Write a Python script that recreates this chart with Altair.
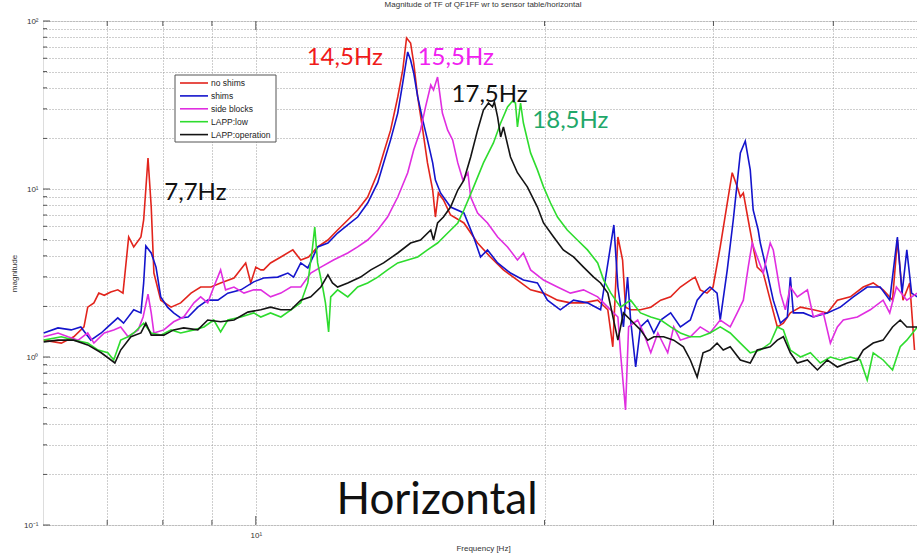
import altair as alt
import pandas as pd

# ---------------- data (frequency [Hz], magnitude) ----------------
NO_SHIMS = [(6.01,1.26),(6.27,1.21),(6.46,1.32),(6.62,1.51),(6.68,1.98),(6.78,2.10),(6.86,2.40),(6.95,2.33),
    (7.06,2.44),(7.18,2.51),(7.27,2.40),(7.37,5.18),(7.46,4.52),(7.59,5.18),(7.64,6.54),(7.72,15.3),(7.78,7.81),
    (7.83,3.16),(7.96,2.18),(8.16,1.98),(8.35,2.10),(8.56,2.40),(8.76,2.61),(8.98,2.61),(9.19,2.76),(9.49,2.95),
    (9.76,3.63),(9.88,2.76),(10.0,3.43),(10.12,3.30),(10.19,3.30),(10.36,3.63),(10.62,3.94),(10.93,4.34),(11.14,3.78),
    (11.35,3.94),(11.60,4.52),(11.89,4.97),(12.17,5.70),(12.47,6.54),(12.77,7.50),(13.08,8.96),(13.40,12.5),
    (13.59,16.4),(13.82,22.4),(14.06,35.3),(14.23,51.1),(14.36,79.2),(14.50,74.0),(14.61,56.2),(14.75,35.3),
    (14.93,22.4),(15.10,14.3),(15.29,9.86),(15.39,6.81),(15.50,9.47),(15.69,8.60),(15.96,7.0),(16.48,6.28),
    (17.03,4.77),(17.56,3.94),(18.12,3.30),(18.74,2.87),(19.34,2.51),(19.95,2.40),(20.63,2.18),(21.28,2.10),
    (21.96,2.10),(22.72,2.18),(23.28,1.91),(23.56,1.15),(23.85,5.18),(24.12,3.78),(24.29,1.98),(24.59,1.91),
    (25.18,1.91),(25.81,1.98),(26.43,2.18),(27.07,2.28),(27.71,2.61),(28.38,2.87),(28.71,2.99),(29.06,2.51),
    (29.54,2.40),(29.97,2.61),(30.49,4.52),(31.01,8.25),(31.38,12.5),(31.76,10.3),(32.00,8.96),(32.23,9.47),
    (32.61,6.54),(33.00,4.52),(33.32,3.43),(33.81,3.16),(34.38,2.18),(34.97,1.51),(35.48,1.59),(36.08,1.83),
    (36.97,1.98),(38.13,1.91),(39.43,1.83),(40.39,2.18),(41.67,2.28),(42.98,2.61),(44.02,2.76),(45.08,2.51),
    (46.11,2.18),(46.65,4.97),(47.28,2.18),(48.05,2.76),(48.61,1.10)]

SHIMS = [(6.01,1.39),(6.22,1.49),(6.42,1.45),(6.57,1.51),(6.73,1.26),(6.90,1.39),(7.01,1.51),(7.18,1.71),
    (7.28,1.59),(7.46,1.91),(7.59,1.83),(7.64,2.76),(7.68,4.58),(7.78,4.16),(7.87,3.43),(7.96,2.28),(8.09,1.98),
    (8.21,1.83),(8.35,1.71),(8.50,1.73),(8.70,1.98),(8.91,2.18),(9.13,2.18),(9.35,2.40),(9.65,2.51),(9.95,2.80),
    (10.19,2.95),(10.54,2.99),(10.80,3.16),(10.95,2.99),(11.14,3.63),(11.33,3.39),(11.60,4.52),(11.89,4.77),
    (12.17,5.47),(12.47,6.11),(12.77,6.81),(13.08,8.25),(13.40,10.9),(13.59,14.3),(13.82,19.6),(14.06,28.3),
    (14.23,42.8),(14.40,65.4),(14.50,58.6),(14.61,49.0),(14.75,35.3),(14.93,25.7),(15.10,19.6),(15.29,14.3),
    (15.39,11.3),(15.58,9.47),(15.96,7.81),(16.48,7.20),(16.87,5.18),(17.15,3.94),(17.44,4.34),(17.87,3.63),
    (18.43,3.16),(19.01,2.87),(19.66,2.76),(20.14,2.18),(20.77,1.91),(21.44,2.18),(22.17,2.10),(22.88,1.91),
    (23.62,6.11),(23.85,2.61),(24.17,1.51),(24.41,2.99),(24.59,1.66),(24.89,0.872),(25.18,1.51),(25.62,1.66),
    (26.00,1.39),(26.43,1.66),(27.07,1.83),(27.71,1.51),(28.38,1.66),(28.85,2.18),(29.26,2.40),(29.75,2.61),
    (30.26,2.40),(30.49,1.66),(31.01,3.30),(31.46,6.54),(32.00,16.4),(32.38,19.3),(32.77,13.0),(33.00,7.50),
    (33.40,5.70),(33.57,4.77),(34.14,3.16),(34.63,2.18),(35.23,1.59),(35.82,1.73),(36.08,2.99),(36.34,1.83),
    (37.23,1.83),(38.13,1.73),(39.43,1.83),(40.68,1.98),(41.97,2.28),(43.39,2.61),(44.77,2.61),(45.80,2.18),
    (46.65,5.18),(47.18,2.40),(47.72,4.34),(48.27,2.40),(48.94,2.28)]

SIDE_BLOCKS = [(6.01,1.32),(6.22,1.39),(6.37,1.32),(6.53,1.26),(6.68,1.39),(6.78,1.21),(6.95,1.39),(7.11,1.45),
    (7.23,1.51),(7.36,1.32),(7.54,1.45),(7.63,1.73),(7.72,2.37),(7.78,1.83),(7.83,1.39),(8.02,1.45),(8.21,1.62),
    (8.41,1.73),(8.62,2.10),(8.76,2.28),(8.91,2.10),(9.04,2.61),(9.19,3.30),(9.30,2.51),(9.49,2.61),(9.72,2.40),
    (9.95,2.51),(10.12,2.51),(10.36,2.28),(10.62,2.40),(10.88,2.61),(11.14,2.61),(11.41,3.16),(11.69,3.43),
    (12.05,3.78),(12.47,4.16),(12.77,4.52),(13.08,4.97),(13.40,5.70),(13.72,6.81),(14.06,8.96),(14.40,12.5),
    (14.61,17.1),(14.85,22.4),(15.03,30.8),(15.22,41.6),(15.32,38.9),(15.47,46.4),(15.65,28.3),(15.85,22.4),
    (16.04,19.6),(16.24,14.3),(16.44,11.3),(16.64,12.5),(16.75,8.96),(17.03,7.20),(17.44,6.28),(17.87,5.18),
    (18.30,4.52),(18.74,3.78),(19.01,4.16),(19.34,3.30),(19.95,2.87),(20.63,2.61),(21.28,2.40),(21.96,2.51),
    (22.72,2.28),(23.28,1.98),(23.85,1.73),(24.00,1.06),(24.29,0.484),(24.47,1.51),(25.01,1.66),(25.37,1.39),
    (25.81,1.06),(26.25,1.39),(26.88,1.06),(27.27,1.51),(27.71,1.26),(28.38,1.32),(29.06,1.51),(29.75,1.39),
    (30.49,1.66),(31.23,1.51),(31.76,1.83),(32.23,2.18),(32.61,3.43),(32.92,4.77),(33.32,3.94),(33.81,3.16),
    (34.38,4.77),(34.63,4.34),(35.23,2.40),(35.65,1.91),(36.08,2.61),(36.69,2.28),(37.59,2.51),(38.13,1.73),
    (39.05,1.83),(39.72,1.21),(40.39,1.51),(40.97,1.66),(42.38,1.73),(43.71,1.91),(45.08,2.18),(45.80,1.83),
    (46.54,2.61),(47.72,2.18),(48.94,2.40)]

LAPP_LOW = [(6.01,1.26),(6.27,1.32),(6.46,1.26),(6.68,1.21),(6.85,1.10),(7.01,1.06),(7.11,0.960),(7.23,1.26),
    (7.36,1.32),(7.46,1.39),(7.64,1.59),(7.78,1.39),(7.96,1.35),(8.16,1.45),(8.35,1.39),(8.62,1.45),(8.83,1.51),
    (9.04,1.66),(9.19,1.41),(9.35,1.66),(9.65,1.73),(9.95,1.83),(10.12,1.73),(10.36,1.83),(10.62,1.73),(10.88,1.91),
    (11.14,2.10),(11.33,2.76),(11.46,4.52),(11.52,5.94),(11.60,3.63),(11.74,2.61),(11.82,2.10),(11.91,1.41),
    (11.97,2.28),(12.17,2.51),(12.47,2.28),(12.77,2.61),(13.08,2.76),(13.40,2.99),(13.72,3.30),(14.06,3.63),
    (14.40,3.78),(14.75,3.94),(15.10,4.34),(15.47,4.77),(15.85,5.47),(16.24,6.28),(16.48,7.50),(16.87,10.3),
    (17.27,14.3),(17.69,18.8),(18.00,24.7),(18.30,30.8),(18.52,33.4),(18.65,32.5),(18.74,23.4),(18.88,32.5),
    (19.01,24.7),(19.34,16.4),(19.66,13.0),(19.95,10.3),(20.29,8.25),(20.63,6.81),(21.12,5.70),(21.64,4.97),
    (22.17,4.34),(22.72,3.63),(23.05,2.87),(23.45,2.40),(24.00,1.98),(24.59,2.18),(25.18,1.83),(25.81,1.73),
    (26.43,1.66),(27.07,1.51),(27.71,1.39),(28.38,1.32),(29.06,1.32),(29.75,1.39),(30.49,1.51),(31.23,1.39),
    (32.00,1.21),(32.77,1.06),(33.57,1.10),(34.38,1.21),(34.97,1.51),(35.48,1.45),(36.08,1.10),(36.97,1.00),
    (37.86,1.06),(38.77,0.921),(39.72,1.00),(40.68,0.960),(41.67,1.00),(42.67,0.960),(43.39,0.730),(44.02,1.06),
    (45.08,0.960),(46.11,0.837),(46.97,1.15),(47.72,1.26),(48.94,1.51)]

LAPP_OPERATION = [(6.01,1.23),(6.22,1.26),(6.46,1.26),(6.68,1.18),(6.90,1.06),(7.13,0.921),(7.23,1.10),(7.41,1.32),
    (7.59,1.39),(7.68,1.59),(7.78,1.35),(8.02,1.35),(8.21,1.45),(8.41,1.49),(8.70,1.45),(8.91,1.66),(9.19,1.62),
    (9.49,1.66),(9.81,1.85),(10.12,1.91),(10.36,1.98),(10.62,1.91),(10.88,1.91),(11.14,2.18),(11.41,2.28),
    (11.69,2.61),(11.89,3.08),(12.02,2.76),(12.17,2.61),(12.47,2.76),(12.86,2.99),(13.18,3.30),(13.59,3.63),
    (14.06,4.16),(14.50,4.77),(14.85,4.97),(15.22,5.70),(15.32,4.97),(15.47,6.28),(15.69,6.81),(15.96,7.81),
    (16.24,9.86),(16.48,11.3),(16.75,15.5),(17.03,22.4),(17.27,29.5),(17.48,32.5),(17.65,30.8),(17.73,33.0),
    (17.87,26.8),(18.00,20.4),(18.12,23.4),(18.43,15.5),(18.74,12.5),(19.19,10.3),(19.66,7.81),(19.95,6.28),
    (20.44,5.18),(20.92,4.34),(21.44,3.94),(21.96,3.43),(22.50,2.99),(22.88,2.76),(23.28,2.40),(23.45,1.98),
    (23.85,1.26),(24.17,1.83),(24.59,1.66),(25.18,1.45),(25.62,1.26),(26.00,1.32),(26.62,1.32),(27.27,1.26),
    (27.91,1.15),(28.38,0.960),(28.85,0.760),(29.26,1.06),(29.75,1.10),(30.26,1.21),(30.71,1.10),(31.23,1.15),
    (32.00,0.960),(32.77,0.921),(33.32,1.10),(34.38,1.15),(34.97,1.26),(35.48,1.32),(36.08,1.06),(36.69,0.921),
    (37.59,0.960),(38.50,0.837),(39.43,0.960),(40.39,0.872),(41.37,0.921),(42.38,0.960),(42.98,1.10),(44.02,1.21),
    (45.08,1.26),(46.11,1.51),(46.97,1.66),(47.72,1.51),(48.94,1.51)]

SERIES_NAMES = ["no shims", "shims", "side blocks", "LAPP:low", "LAPP:operation"]
SERIES_DATA = [NO_SHIMS, SHIMS, SIDE_BLOCKS, LAPP_LOW, LAPP_OPERATION]
SERIES_COLORS = ["#e2241c", "#1414cc", "#e02ee0", "#2edc2e", "#141414"]

ANNOT_TEXT = ["14,5Hz", "15,5Hz", "17,5Hz", "18,5Hz", "7,7Hz", "Horizontal"]
ANNOT_FREQ = [12.38, 16.16, 17.53, 21.28, 8.65, 15.45]
ANNOT_MAG = [54.7, 54.7, 33.0, 23.1, 8.60, 0.1163]
ANNOT_COLOR = ["#f01a1a", "#f020f0", "#111111", "#1fa86a", "#111111", "#111111"]
ANNOT_SIZE = [24, 24, 24, 24, 24, 44]

X_GRID = [7, 8, 9, 10, 20, 30, 40]
X_MAJOR = [10]
Y_GRID = [m * 10.0 ** e for e in (-1, 0, 1) for m in range(1, 10)] + [100]
Y_MAJOR = [0.1, 1, 10, 100]

TITLE = "Magnitude of TF of QF1FF wr to sensor table/horizontal"

# ---------------- chart ----------------
PLOT_W, PLOT_H = 874, 504
xscale = alt.Scale(type="log", domain=[6, 48.9], nice=False)
yscale = alt.Scale(type="log", domain=[0.1, 100], nice=False)

small_font = "Liberation Sans"
grid_color = "#9c9c9c"
xaxis = alt.Axis(values=X_GRID, labelExpr="datum.value == 10 ? '10¹' : ''",
                 grid=True, gridDash=[1, 2], gridColor=grid_color, gridWidth=1,
                 ticks=False, domain=False, labelFont=small_font, labelFontSize=8,
                 labelColor="#333333", labelPadding=6, labelOverlap=False, labelFlush=False,
                 title="Frequency [Hz]", titleFont=small_font, titleFontSize=8,
                 titleFontWeight="normal", titleColor="#333333", titleX=440, titleY=19)
yaxis = alt.Axis(values=Y_GRID,
                 labelExpr="datum.value == 0.1 ? '10⁻¹' : datum.value == 1 ? '10⁰' : datum.value == 10 ? '10¹' : datum.value == 100 ? '10²' : ''",
                 grid=True, gridDash=[1, 2], gridColor=grid_color, gridWidth=1,
                 ticks=False, domain=False, labelFont=small_font, labelFontSize=8,
                 labelColor="#333333", labelPadding=5, labelOverlap=False, labelFlush=False,
                 title="magnitude", titleFont=small_font, titleFontSize=8,
                 titleFontWeight="normal", titleColor="#333333", titleX=-25)

layers = []
for name, pts, color in zip(SERIES_NAMES, SERIES_DATA, SERIES_COLORS):
    df = pd.DataFrame(pts, columns=["freq", "mag"])
    df["i"] = range(len(df))
    layers.append(
        alt.Chart(df).mark_line(color=color, strokeWidth=1.6, clip=True).encode(
            x=alt.X("freq:Q", scale=xscale, axis=xaxis),
            y=alt.Y("mag:Q", scale=yscale, axis=yaxis),
            order="i:Q",
        )
    )

# inward tick marks (Matlab style) along the left, bottom and top edges of the box
ytick_df = pd.DataFrame({"v": Y_GRID})
ytick_df["len"] = [7 if any(abs(v - m) < 1e-9 for m in Y_MAJOR) else 4 for v in Y_GRID]
ytick_df["x0"] = 0
yticks = alt.Chart(ytick_df).mark_rule(color="#555555", strokeWidth=1).encode(
    y=alt.Y("v:Q", scale=yscale, axis=yaxis),
    x=alt.X("x0:Q", scale=None), x2="len:Q")

xtick_df = pd.DataFrame({"v": X_GRID})
xtick_df["len"] = [9 if v in X_MAJOR else 5 for v in X_GRID]
xtick_bottom = alt.Chart(xtick_df).transform_calculate(
    y0=str(PLOT_H), y1=f"{PLOT_H} - datum.len").mark_rule(color="#555555", strokeWidth=1).encode(
    x=alt.X("v:Q", scale=xscale, axis=xaxis),
    y=alt.Y("y0:Q", scale=None), y2="y1:Q")
xtick_top = alt.Chart(xtick_df).transform_calculate(
    y0="0", y1="datum.len").mark_rule(color="#555555", strokeWidth=1).encode(
    x=alt.X("v:Q", scale=xscale, axis=xaxis),
    y=alt.Y("y0:Q", scale=None), y2="y1:Q")

# legend (drawn by hand, Matlab style)
leg_df = pd.DataFrame({"label": SERIES_NAMES, "color": SERIES_COLORS, "row": list(range(len(SERIES_NAMES)))})
box = alt.Chart(pd.DataFrame({"a": [0]})).mark_rect(fill="white", stroke="#555555", strokeWidth=1).encode(
    x=alt.value(132), x2=alt.value(233), y=alt.value(54), y2=alt.value(121))
leg_lines = alt.Chart(leg_df).transform_calculate(py="62 + 12.9 * datum.row").mark_rule(strokeWidth=1.6).encode(
    x=alt.value(137), x2=alt.value(165), y=alt.Y("py:Q", scale=None),
    color=alt.Color("color:N", scale=None))
leg_text = alt.Chart(leg_df).transform_calculate(py="62 + 12.9 * datum.row").mark_text(
    align="left", baseline="middle", font=small_font, fontSize=8.5, color="#222222").encode(
    x=alt.value(168), y=alt.Y("py:Q", scale=None), text="label:N")

annot_df = pd.DataFrame({"text": ANNOT_TEXT, "freq": ANNOT_FREQ, "mag": ANNOT_MAG,
                         "color": ANNOT_COLOR, "size": ANNOT_SIZE})
annots = alt.Chart(annot_df).mark_text(align="center", baseline="alphabetic", font="Lato").encode(
    x=alt.X("freq:Q", scale=xscale, axis=xaxis),
    y=alt.Y("mag:Q", scale=yscale, axis=yaxis),
    text="text:N",
    color=alt.Color("color:N", scale=None),
    size=alt.Size("size:Q", scale=None),
)

chart = alt.layer(*layers, yticks, xtick_bottom, xtick_top, box, leg_lines, leg_text, annots).properties(
    width=PLOT_W, height=PLOT_H,
    title=alt.Title(TITLE, font=small_font, fontSize=8, fontWeight="normal", color="#333333",
                    anchor="middle", offset=8, dx=3),
    padding={"left": 43, "top": 21, "right": 0, "bottom": 29},
    autosize=alt.AutoSizeParams(type="none"),
).configure_view(stroke="#555555", strokeWidth=1).configure(background="white")

chart.save("out.html", embed_options={"renderer": "svg", "actions": False})
